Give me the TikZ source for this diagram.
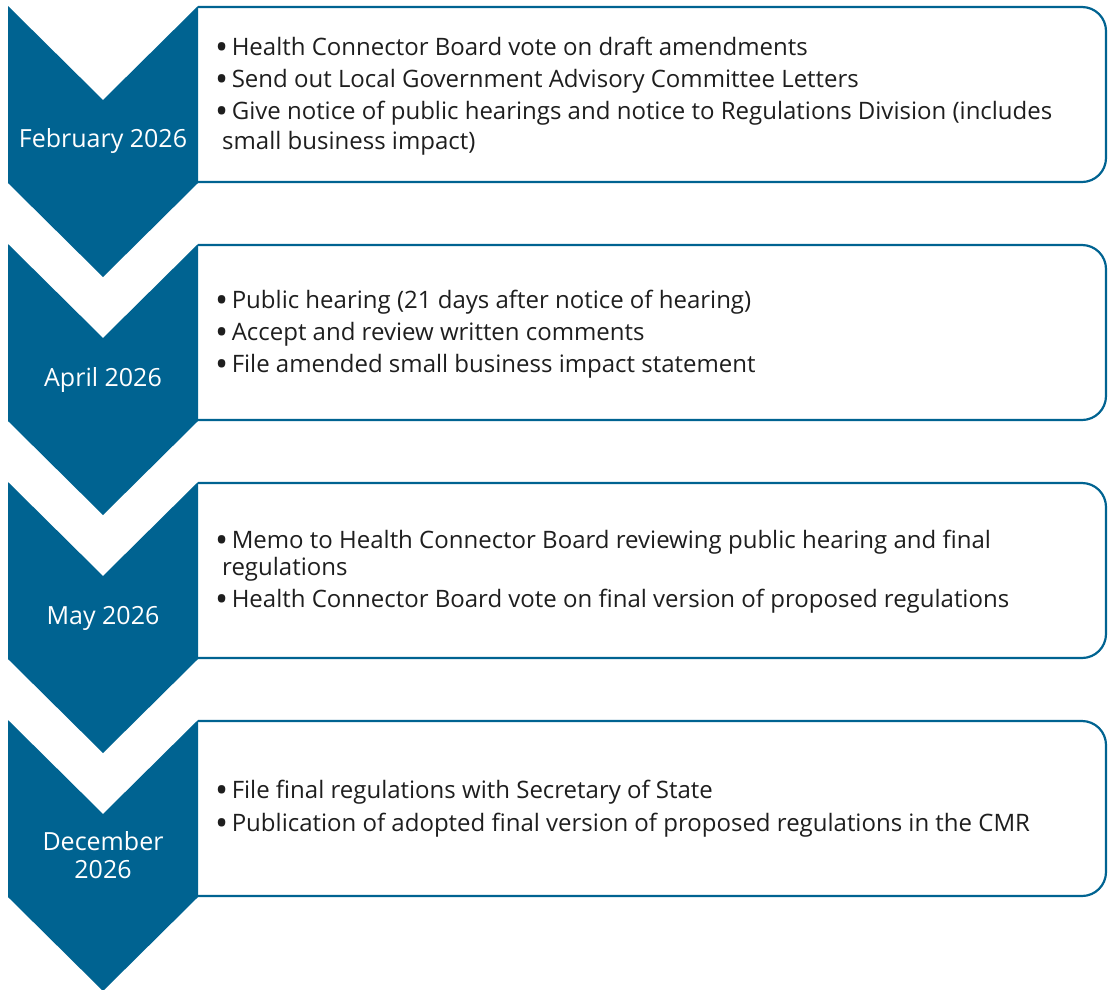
\documentclass[tikz,border=0pt]{standalone}
\usepackage{fontspec}
\setmainfont{Open Sans}
\definecolor{stepblue}{RGB}{0,99,145}
\definecolor{bodytext}{RGB}{30,30,30}
% a slightly heavier bullet than the font's own, kept at mid x-height
\newcommand\itembullet{\smash{\raisebox{-0.17em}{\scalebox{1.45}{\textbullet}}}\hspace{3.5pt}}
\begin{document}
\begin{tikzpicture}[x=1pt,y=-1pt,
  chev/.style={fill=stepblue},
  frame/.style={draw=stepblue,line width=2.2pt,rounded corners=24pt},
  date/.style={text=white,font=\fontsize{25}{28}\selectfont,align=center,inner sep=0pt},
  item/.style={anchor=base west,inner sep=0pt,font=\fontsize{24}{28}\selectfont,text=bodytext},
]
\useasboundingbox (0,0) rectangle (1108,989);

% frames with rounded right corners, then the chevrons over their left ends
\foreach \t in {6,244,482,720}{
  \draw[frame] (198,\t+1) -- (1106,\t+1) -- (1106,\t+176) -- (198,\t+176);
  \fill[chev] (8,\t) -- (103,\t+94) -- (198,\t) -- (198,\t+177)
              -- (103,\t+271) -- (8,\t+177) -- cycle;
}

% dates
\node[date] (d1) at (103,141) {February 2026};
\node[date] (d2) at (103,380) {April 2026};
\node[date] (d3) at (103,618) {May 2026};
\node[date] (d4) at (103,855) {December\\2026};

% February items
\node[item] (a1) at (215,55) {\itembullet Health Connector Board vote on draft amendments};
\node[item] (a2) at (215,87) {\itembullet Send out Local Government Advisory Committee Letters};
\node[item] (a3) at (215,119) {\itembullet Give notice of public hearings and notice to Regulations Division (includes};
\node[item] (a4) at (222,149) {small business impact)};

% April items
\node[item] (b1) at (215,308) {\itembullet Public hearing (21 days after notice of hearing)};
\node[item] (b2) at (215,340) {\itembullet Accept and review written comments};
\node[item] (b3) at (215,372) {\itembullet File amended small business impact statement};

% May items
\node[item] (c1) at (215,548) {\itembullet Memo to Health Connector Board reviewing public hearing and final};
\node[item] (c2) at (222,575) {regulations};
\node[item] (c3) at (215,607) {\itembullet Health Connector Board vote on final version of proposed regulations};

% December items
\node[item] (e1) at (215,798) {\itembullet File final regulations with Secretary of State};
\node[item] (e2) at (215,831) {\itembullet Publication of adopted final version of proposed regulations in the CMR};
\end{tikzpicture}
\end{document}
